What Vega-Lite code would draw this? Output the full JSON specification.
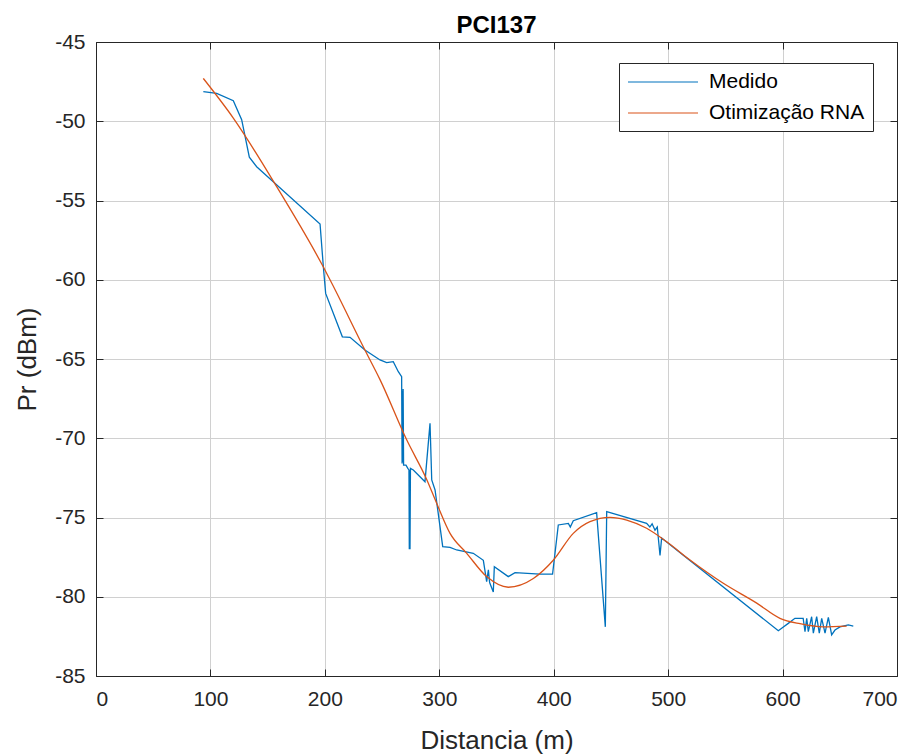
{
  "$schema": "https://vega.github.io/schema/vega-lite/v6.json",
  "width": 801,
  "height": 634,
  "autosize": {"type": "none"},
  "padding": {"left": 96, "top": 42, "right": 26, "bottom": 80},
  "background": "white",
  "config": {
    "font": "Liberation Sans",
    "view": {"stroke": "#262626", "strokeWidth": 1},
    "axis": {
      "domainColor": "#262626",
      "tickColor": "#262626",
      "gridColor": "#d0d0d0",
      "gridOpacity": 1,
      "labelColor": "#262626",
      "titleColor": "#262626",
      "labelFont": "Liberation Sans",
      "titleFont": "Liberation Sans",
      "labelFontSize": 21,
      "titleFontSize": 26,
      "titleFontWeight": "normal",
      "tickSize": -7,
      "labelExpr": "toString(datum.value)"
    }
  },
  "title": {
    "text": "PCI137",
    "fontSize": 24,
    "fontWeight": "bold",
    "font": "Liberation Sans",
    "color": "#000000",
    "offset": -7
  },
  "data": {
    "values": [
      {"d": 93.8, "pr": -48.13, "s": "Medido"},
      {"d": 105.5, "pr": -48.24, "s": "Medido"},
      {"d": 120, "pr": -48.7, "s": "Medido"},
      {"d": 127.3, "pr": -49.9, "s": "Medido"},
      {"d": 134, "pr": -52.27, "s": "Medido"},
      {"d": 140.4, "pr": -52.87, "s": "Medido"},
      {"d": 195.8, "pr": -56.48, "s": "Medido"},
      {"d": 198.7, "pr": -59.2, "s": "Medido"},
      {"d": 200.7, "pr": -60.86, "s": "Medido"},
      {"d": 215.3, "pr": -63.6, "s": "Medido"},
      {"d": 222, "pr": -63.63, "s": "Medido"},
      {"d": 235, "pr": -64.43, "s": "Medido"},
      {"d": 248.2, "pr": -65.06, "s": "Medido"},
      {"d": 254, "pr": -65.23, "s": "Medido"},
      {"d": 259.8, "pr": -65.17, "s": "Medido"},
      {"d": 264.2, "pr": -65.8, "s": "Medido"},
      {"d": 267.1, "pr": -66.12, "s": "Medido"},
      {"d": 267.5, "pr": -71.6, "s": "Medido"},
      {"d": 267.8, "pr": -67.0, "s": "Medido"},
      {"d": 268.1, "pr": -71.5, "s": "Medido"},
      {"d": 268.4, "pr": -66.9, "s": "Medido"},
      {"d": 268.8, "pr": -71.7, "s": "Medido"},
      {"d": 270.9, "pr": -71.7, "s": "Medido"},
      {"d": 272.5, "pr": -71.9, "s": "Medido"},
      {"d": 273.5, "pr": -72.0, "s": "Medido"},
      {"d": 273.8, "pr": -77.0, "s": "Medido"},
      {"d": 274.1, "pr": -72.0, "s": "Medido"},
      {"d": 274.4, "pr": -77.0, "s": "Medido"},
      {"d": 274.8, "pr": -71.9, "s": "Medido"},
      {"d": 277.3, "pr": -72.0, "s": "Medido"},
      {"d": 287.5, "pr": -72.74, "s": "Medido"},
      {"d": 291.9, "pr": -69.06, "s": "Medido"},
      {"d": 293.4, "pr": -72.63, "s": "Medido"},
      {"d": 296.3, "pr": -73.26, "s": "Medido"},
      {"d": 303, "pr": -76.84, "s": "Medido"},
      {"d": 309.4, "pr": -76.88, "s": "Medido"},
      {"d": 315.2, "pr": -77.05, "s": "Medido"},
      {"d": 329.7, "pr": -77.26, "s": "Medido"},
      {"d": 338.5, "pr": -77.7, "s": "Medido"},
      {"d": 341.4, "pr": -79.05, "s": "Medido"},
      {"d": 342.9, "pr": -78.3, "s": "Medido"},
      {"d": 344, "pr": -79.1, "s": "Medido"},
      {"d": 347.2, "pr": -79.7, "s": "Medido"},
      {"d": 348.1, "pr": -78.1, "s": "Medido"},
      {"d": 360.3, "pr": -78.73, "s": "Medido"},
      {"d": 366.2, "pr": -78.48, "s": "Medido"},
      {"d": 388, "pr": -78.57, "s": "Medido"},
      {"d": 399, "pr": -78.57, "s": "Medido"},
      {"d": 404, "pr": -75.47, "s": "Medido"},
      {"d": 412.8, "pr": -75.37, "s": "Medido"},
      {"d": 414.5, "pr": -75.6, "s": "Medido"},
      {"d": 417.1, "pr": -75.2, "s": "Medido"},
      {"d": 437.5, "pr": -74.7, "s": "Medido"},
      {"d": 445.1, "pr": -81.9, "s": "Medido"},
      {"d": 446.3, "pr": -74.63, "s": "Medido"},
      {"d": 481.2, "pr": -75.37, "s": "Medido"},
      {"d": 484, "pr": -75.6, "s": "Medido"},
      {"d": 486, "pr": -75.4, "s": "Medido"},
      {"d": 488.5, "pr": -75.8, "s": "Medido"},
      {"d": 490.5, "pr": -75.6, "s": "Medido"},
      {"d": 492.9, "pr": -77.4, "s": "Medido"},
      {"d": 494.3, "pr": -76.3, "s": "Medido"},
      {"d": 596.3, "pr": -82.14, "s": "Medido"},
      {"d": 599.2, "pr": -81.99, "s": "Medido"},
      {"d": 605, "pr": -81.68, "s": "Medido"},
      {"d": 610.8, "pr": -81.36, "s": "Medido"},
      {"d": 618, "pr": -81.36, "s": "Medido"},
      {"d": 619.6, "pr": -82.2, "s": "Medido"},
      {"d": 621.1, "pr": -81.36, "s": "Medido"},
      {"d": 622.5, "pr": -82.2, "s": "Medido"},
      {"d": 625.4, "pr": -81.26, "s": "Medido"},
      {"d": 626.9, "pr": -82.3, "s": "Medido"},
      {"d": 629.8, "pr": -81.26, "s": "Medido"},
      {"d": 632.1, "pr": -82.3, "s": "Medido"},
      {"d": 634.2, "pr": -81.36, "s": "Medido"},
      {"d": 637.1, "pr": -82.3, "s": "Medido"},
      {"d": 640, "pr": -81.3, "s": "Medido"},
      {"d": 642.9, "pr": -82.4, "s": "Medido"},
      {"d": 645.8, "pr": -82.1, "s": "Medido"},
      {"d": 650.2, "pr": -81.9, "s": "Medido"},
      {"d": 657.4, "pr": -81.78, "s": "Medido"},
      {"d": 661.8, "pr": -81.85, "s": "Medido"},
      {"d": 93.8, "pr": -47.3, "s": "Otimização RNA"},
      {"d": 120, "pr": -49.8, "s": "Otimização RNA"},
      {"d": 157.9, "pr": -54.13, "s": "Otimização RNA"},
      {"d": 198.7, "pr": -59.2, "s": "Otimização RNA"},
      {"d": 204.5, "pr": -60.0, "s": "Otimização RNA"},
      {"d": 235, "pr": -64.43, "s": "Otimização RNA"},
      {"d": 248.2, "pr": -66.3, "s": "Otimização RNA"},
      {"d": 271.5, "pr": -70.1, "s": "Otimização RNA"},
      {"d": 289, "pr": -72.6, "s": "Otimização RNA"},
      {"d": 297.7, "pr": -74.1, "s": "Otimização RNA"},
      {"d": 309.4, "pr": -76.0, "s": "Otimização RNA"},
      {"d": 324, "pr": -77.26, "s": "Otimização RNA"},
      {"d": 341.4, "pr": -78.73, "s": "Otimização RNA"},
      {"d": 360.3, "pr": -79.4, "s": "Otimização RNA"},
      {"d": 382.2, "pr": -78.85, "s": "Otimização RNA"},
      {"d": 399.6, "pr": -77.7, "s": "Otimização RNA"},
      {"d": 417.1, "pr": -76.0, "s": "Otimização RNA"},
      {"d": 431.7, "pr": -75.26, "s": "Otimização RNA"},
      {"d": 449.2, "pr": -74.99, "s": "Otimização RNA"},
      {"d": 463.8, "pr": -75.16, "s": "Otimização RNA"},
      {"d": 481.2, "pr": -75.68, "s": "Otimização RNA"},
      {"d": 498.7, "pr": -76.53, "s": "Otimização RNA"},
      {"d": 519.1, "pr": -77.68, "s": "Otimização RNA"},
      {"d": 548.2, "pr": -79.15, "s": "Otimização RNA"},
      {"d": 577.4, "pr": -80.4, "s": "Otimização RNA"},
      {"d": 597.7, "pr": -81.36, "s": "Otimização RNA"},
      {"d": 615.2, "pr": -81.7, "s": "Otimização RNA"},
      {"d": 635.6, "pr": -81.9, "s": "Otimização RNA"},
      {"d": 656, "pr": -81.85, "s": "Otimização RNA"}
    ]
  },
  "encoding": {
    "x": {
      "field": "d",
      "type": "quantitative",
      "scale": {"domain": [0, 700], "nice": false, "zero": false}
    },
    "y": {
      "field": "pr",
      "type": "quantitative",
      "scale": {"domain": [-85, -45], "nice": false, "zero": false}
    },
    "color": {
      "field": "s",
      "type": "nominal",
      "scale": {"domain": ["Medido", "Otimização RNA"], "range": ["#0072BD", "#D95319"]},
      "legend": {
        "title": null,
        "orient": "none",
        "legendX": 523,
        "legendY": 21,
        "strokeColor": "#262626",
        "fillColor": "white",
        "padding": 8,
        "cornerRadius": 0,
        "symbolType": "M-1,0H6",
        "symbolSize": 400,
        "symbolStrokeWidth": 1.2,
        "labelFontSize": 21,
        "labelFont": "Liberation Sans",
        "labelColor": "#000000",
        "labelOffset": 60,
        "rowPadding": 10
      }
    }
  },
  "layer": [
    {
      "transform": [{"filter": "datum.s === 'Medido'"}],
      "mark": {"type": "line", "strokeWidth": 1.3, "interpolate": "linear"},
      "encoding": {
        "x": {
          "field": "d", "type": "quantitative",
          "axis": {"title": "Distancia (m)", "values": [0, 100, 200, 300, 400, 500, 600, 700], "grid": true, "labelPadding": 19, "titlePadding": 18}
        },
        "y": {
          "field": "pr", "type": "quantitative",
          "axis": {"title": "Pr (dBm)", "values": [-85, -80, -75, -70, -65, -60, -55, -50, -45], "grid": true, "labelPadding": 18, "titlePadding": 14}
        }
      }
    },
    {
      "transform": [{"filter": "datum.s !== 'Medido'"}],
      "mark": {"type": "line", "strokeWidth": 1.3, "interpolate": "monotone"},
      "encoding": {
        "x": {
          "field": "d", "type": "quantitative",
          "axis": {"orient": "top", "title": null, "labels": false, "grid": false, "values": [0, 100, 200, 300, 400, 500, 600, 700]}
        },
        "y": {
          "field": "pr", "type": "quantitative",
          "axis": {"orient": "right", "title": null, "labels": false, "grid": false, "values": [-85, -80, -75, -70, -65, -60, -55, -50, -45]}
        }
      }
    }
  ],
  "resolve": {"axis": {"x": "independent", "y": "independent"}}
}
